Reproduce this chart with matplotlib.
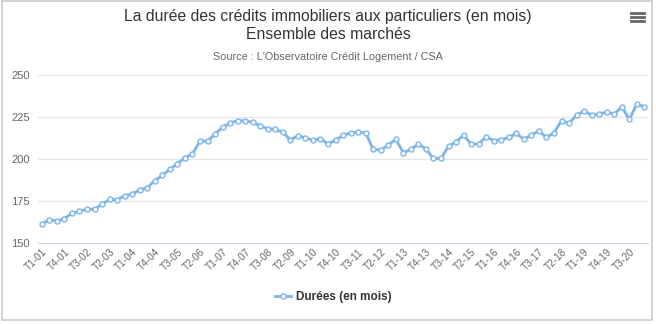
import matplotlib
matplotlib.use("Agg")
import matplotlib.pyplot as plt
from matplotlib.patches import Rectangle
from matplotlib.lines import Line2D

plt.rcParams['font.family'] = ['Liberation Sans', 'DejaVu Sans']

# trimestres T1-01 ... T1-21
quarters = [f"T{q}-{y:02d}" for y in range(1, 21) for q in range(1, 5)] + ["T1-21"]

durees = [
    161.3, 163.9, 163.1, 164.5, 167.7, 168.8, 170.2, 170.1, 173.1, 175.9,
    175.8, 178.2, 179.1, 181.7, 182.9, 187.2, 190.2, 193.9, 197.2, 200.8,
    203.1, 210.7, 210.6, 214.9, 218.8, 221.5, 222.8, 222.8, 221.8, 219.8,
    218.0, 217.6, 216.0, 211.4, 213.8, 212.6, 211.2, 212.2, 208.9, 211.4,
    214.0, 215.6, 216.0, 215.6, 205.7, 205.3, 208.3, 211.8, 203.7, 205.7,
    208.9, 205.9, 200.3, 200.3, 207.7, 210.2, 214.2, 208.9, 208.9, 213.2,
    211.0, 211.6, 212.8, 215.2, 211.8, 214.2, 216.8, 212.8, 215.6, 222.8,
    221.2, 226.2, 228.5, 226.2, 226.8, 227.9, 226.8, 231.1, 223.6, 232.7,
    231.1,
]

y_ticks = [150, 175, 200, 225, 250]
blue = '#7cb5ec'

fig = plt.figure(figsize=(6.56, 3.24), dpi=100)
ax = fig.add_axes([0.058, 0.25, 0.93, 0.5185])

x = list(range(len(durees)))
ax.plot(x, durees, color=blue, lw=2, marker='o', ms=3.6,
        mfc='white', mec=blue, mew=1, label='Durées (en mois)', zorder=3)

ax.set_xlim(-0.5, len(durees) - 0.5)
ax.set_ylim(150, 250)
ax.set_yticks(y_ticks)
ax.grid(axis='y', color='#e6e6e6', lw=1)
ax.set_axisbelow(True)
for s in ['top', 'right', 'left']:
    ax.spines[s].set_visible(False)
ax.spines['bottom'].set_color('#ccd6eb')
ax.tick_params(axis='y', length=0, labelsize=8, colors='#666666', pad=6)
ax.tick_params(axis='x', length=0, labelsize=7.2, colors='#666666', pad=3)

ticks = x[::3]
ax.set_xticks(ticks)
ax.set_xticklabels([quarters[i] for i in ticks], rotation=45,
                   ha='right', rotation_mode='anchor')

fig.text(0.5, 0.948, "La durée des crédits immobiliers aux particuliers (en mois)",
         ha='center', va='center', fontsize=11.3, color='#333333')
fig.text(0.5, 0.895, "Ensemble des marchés",
         ha='center', va='center', fontsize=11.3, color='#333333')
fig.text(0.5, 0.825, "Source : L'Observatoire Crédit Logement / CSA",
         ha='center', va='center', fontsize=7.8, color='#666666')

# menu icon
for yy in [0.96, 0.948, 0.936]:
    fig.add_artist(Line2D([0.962, 0.982], [yy, yy], color='#666666', lw=2))

leg = fig.legend(loc='center', bbox_to_anchor=(0.508, 0.082), frameon=False,
                 prop={'weight': 'bold', 'size': 8.5}, handlelength=1.4,
                 handletextpad=0.4)
for t in leg.get_texts():
    t.set_color('#333333')

fig.add_artist(Rectangle((0.003, 0.012), 0.991, 0.985, transform=fig.transFigure,
                         fill=False, ec='#cccccc', lw=1.2))

fig.savefig('out.png', dpi=100, facecolor='white')
